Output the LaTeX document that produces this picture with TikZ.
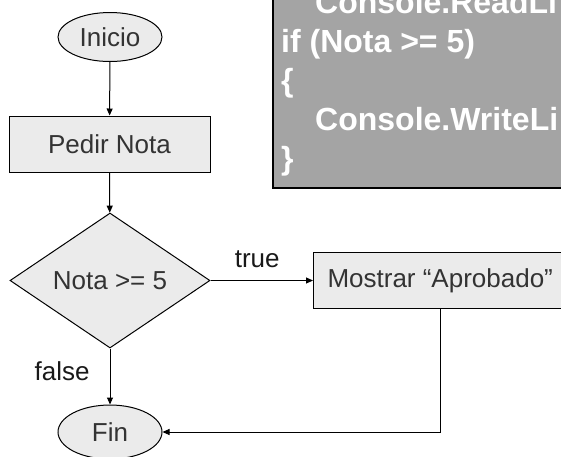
\documentclass[tikz,border=0pt]{standalone}
\usepackage{fontspec}
\setmainfont{Liberation Sans}
\usetikzlibrary{shapes.geometric,arrows.meta}
\definecolor{nodefill}{HTML}{EBEBEB}
\definecolor{nodetext}{HTML}{333333}
\definecolor{codefill}{HTML}{A4A4A4}
\begin{document}
\begin{tikzpicture}[x=1pt,y=-1pt,
  every node/.style={font=\fontsize{26}{30}\selectfont},
  shapebase/.style={draw=black, line width=1pt, fill=nodefill, text=nodetext, inner sep=0pt},
  term/.style={shapebase, ellipse, minimum width=104pt, minimum height=49pt},
  proc/.style={shapebase, rectangle, minimum height=56pt},
  dec/.style={shapebase, diamond, minimum width=200pt, minimum height=135pt},
  lbl/.style={inner sep=0pt, text=black!90},
  arr/.style={draw=black, line width=1pt, -{Triangle[length=7pt,width=6pt]}},
  codebox/.style={draw=black, line width=1.5pt, fill=codefill},
  codeline/.style={anchor=base west, inner sep=0pt, text=white,
    font=\fontsize{32}{39}\bfseries\selectfont}]
\useasboundingbox (0,0) rectangle (561,456);
\clip (0,0) rectangle (561,456);

% code listing panel
\path[codebox] (273,-10) rectangle (590,188);
\node[codeline] (c1) at (315,13)  {Console.ReadLi};
\node[codeline] (c2) at (281,52)  {if (Nota >= 5)};
\node[codeline] (c3) at (281,91)  {\{};
\node[codeline] (c4) at (315,130) {Console.WriteLi};
\node[codeline] (c5) at (281,169) {\}};

% flowchart
\node[term] (inicio) at (110,37) {Inicio};
\node[proc, minimum width=201pt] (pedir) at (109.5,144) {Pedir Nota};
\node[dec] (cond) at (110,280.5) {Nota >= 5};
\node[proc, anchor=west, inner xsep=14pt] (mostrar) at (313,280.5) {Mostrar “Aprobado”};
\node[term, minimum height=54pt] (fin) at (110,432) {Fin};

\draw[arr] (inicio) -- (pedir);
\draw[arr] (pedir) -- (cond);
\draw[arr] (cond.east) -- node[lbl, pos=0.456, anchor=base, yshift=13pt] {true} (mostrar.west);
\draw[arr] (cond.south) -- node[lbl, pos=0.41, anchor=east, xshift=-20pt] {false} (fin.north);
\draw[arr] (mostrar.south) |- (fin.east);
\end{tikzpicture}
\end{document}
